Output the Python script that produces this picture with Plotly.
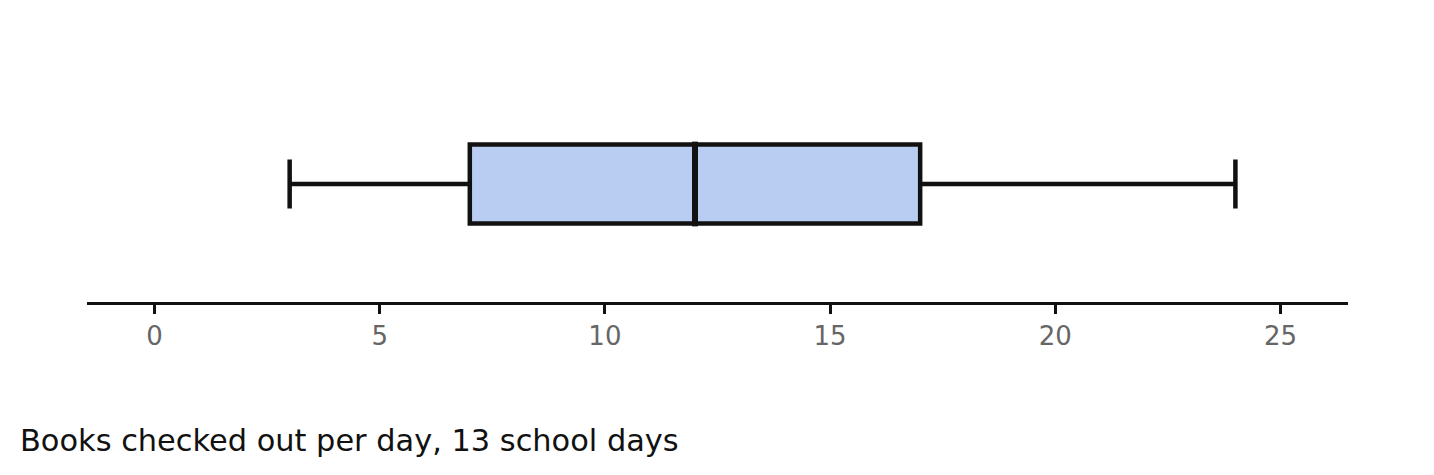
import plotly.graph_objects as go

# Data (five-number summary of books checked out per day)
stat_min = [3]
stat_q1 = [7]
stat_median = [12]
stat_q3 = [17]
stat_max = [24]
tick_vals = [0, 5, 10, 15, 20, 25]
tick_text = ["0", "5", "10", "15", "20", "25"]
caption = "Books checked out per day, 13 school days"

INK = "#111111"
FILL = "#b9cdf3"
BOX_W = 0.335

fig = go.Figure()
fig.add_trace(go.Box(
    y=[0], orientation="h",
    lowerfence=stat_min, q1=stat_q1, median=stat_median, q3=stat_q3, upperfence=stat_max,
    width=BOX_W, whiskerwidth=0.62,
    fillcolor=FILL, line=dict(color=INK, width=4.5),
    boxpoints=False, hoverinfo="skip", showlegend=False,
))

# thicker median line
for m in stat_median:
    fig.add_shape(type="line", xref="x", yref="y", x0=m, x1=m,
                  y0=-BOX_W / 2 - 0.012, y1=BOX_W / 2 + 0.012,
                  line=dict(color=INK, width=6))

fig.add_annotation(text=caption, xref="paper", yref="paper",
                   x=(18 - 87) / 1261, y=(302 - 440) / 236,
                   xanchor="left", yanchor="middle", showarrow=False,
                   font=dict(family="DejaVu Sans", size=30.4, color=INK))

fig.update_layout(
    width=1418, height=459,
    margin=dict(l=79, r=78, t=58, b=165),
    paper_bgcolor="white", plot_bgcolor="white",
    font=dict(family="DejaVu Sans"),
    xaxis=dict(range=[-1.5, 26.5], tickvals=tick_vals, ticktext=tick_text,
               showgrid=False, zeroline=False, showline=True,
               linecolor=INK, linewidth=3, ticks="outside", ticklen=9,
               tickwidth=3, tickcolor=INK,
               tickfont=dict(size=26, color="#666666", family="DejaVu Sans")),
    yaxis=dict(range=[-0.5, 0.5], visible=False, fixedrange=True),
)

fig.write_html("out.html")
